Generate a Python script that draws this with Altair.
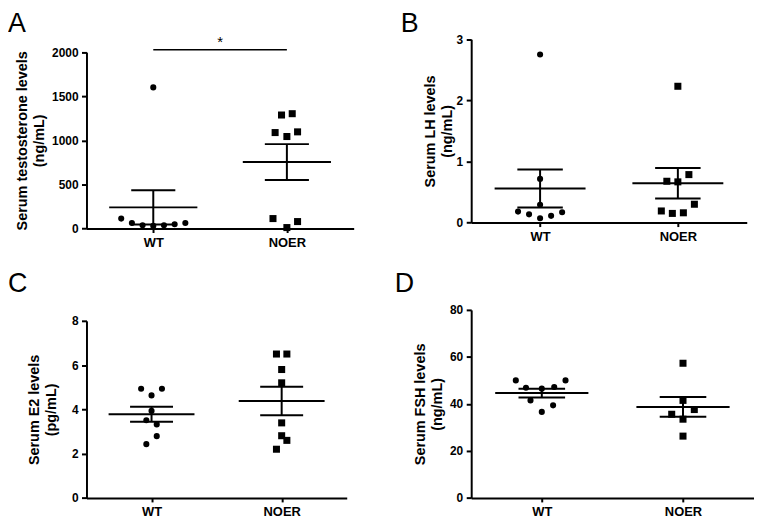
import altair as alt
import pandas as pd

groups = ["WT", "NOER"]
shapes = ["circle", "square"]

# ---- Panel A: serum testosterone (ng/mL)
a_wt = [113, 63, 37, 30, 37, 48, 63, 1600]
a_wt_slot = [-3, -2, -1, 0, 1, 2, 3, 0]
a_noer = [113, 11, 79, 1088, 1043, 1096, 1287, 1302]
a_noer_slot = [-1.3, 0, 1, -1.1, 0, 1, -0.5, 0.5]
a_mean = [240, 754]
a_sem = [195, 203]
a_ticks = [0, 500, 1000, 1500, 2000]
a_sig_from = [0]
a_sig_to = [1]
a_sig_y = [2027]
a_star_x = [0.5]
a_star_y = [2060]
a_star_text = ["*"]

# ---- Panel B: serum LH (ng/mL)
b_wt = [2.75, 0.715, 0.29, 0.18, 0.135, 0.07, 0.11, 0.17]
b_wt_slot = [0, 0, 0, -2, -1, 0, 1, 2]
b_noer = [2.23, 0.676, 0.666, 0.785, 0.30, 0.19, 0.15, 0.16]
b_noer_slot = [0, -1, 0, 1, 1.5, -1.5, -0.5, 0.5]
b_mean = [0.557, 0.644]
b_sem = [0.31, 0.25]
b_ticks = [0, 1, 2, 3]

# ---- Panel C: serum E2 (pg/mL)
c_wt = [4.93, 4.93, 4.63, 3.93, 3.51, 3.32, 2.79, 2.43]
c_wt_slot = [-1, 1, 0, 0, -0.5, 0.5, 0.5, -0.5]
c_noer = [6.5, 6.5, 5.8, 5.2, 3.39, 2.81, 2.6, 2.2]
c_noer_slot = [-0.5, 0.5, 0, 0, 0, 0, 0.5, -0.5]
c_mean = [3.78, 4.38]
c_sem = [0.34, 0.64]
c_ticks = [0, 2, 4, 6, 8]

# ---- Panel D: serum FSH (ng/mL)
d_wt = [50.0, 50.0, 46.9, 46.5, 47.2, 41.5, 36.6, 39.4]
d_wt_slot = [-2.3, 2.1, -1.4, 0, 1.1, -1, 0, 1]
d_noer = [57.3, 41.5, 37.6, 35.6, 33.5, 26.3]
d_noer_slot = [0, 0, 1, -1, 0, 0]
d_mean = [44.6, 38.7]
d_sem = [1.9, 4.2]
d_ticks = [0, 20, 40, 60, 80]

FONT = "Liberation Sans"
STEP = 0.08
MEAN_HALF = 0.33
CAP_HALF = 0.165
label_expr = "[" + ",".join("'%s'" % g for g in groups) + "][datum.value]"


def panel(letter, letter_dx, letter_offset, wt, wt_slot, noer, noer_slot,
          mean, sem, ticks, ytitle, title_pad, width, height, y_top, extra=()):
    pts = pd.DataFrame({
        "group": [groups[0]] * len(wt) + [groups[1]] * len(noer),
        "gi": [0] * len(wt) + [1] * len(noer),
        "value": wt + noer,
        "slot": wt_slot + noer_slot,
    })
    summ = pd.DataFrame({"group": groups, "gi": [0, 1], "mean": mean, "sem": sem})
    xs = alt.Scale(domain=[-0.5, 1.5], nice=False, zero=False)
    ys = alt.Scale(domain=[ticks[0], ticks[-1]], range=[height, y_top], nice=False)
    xax = alt.Axis(values=[0, 1], labelExpr=label_expr, title=None, grid=False,
                   tickSize=4, labelPadding=4, labelFontSize=13, labelFlush=False)
    yax = alt.Axis(values=ticks, title=ytitle, grid=False, tickSize=5, format="d",
                   labelPadding=3.5, titlePadding=title_pad, labelFontSize=12,
                   labelFlush=False)

    def X(f):
        return alt.X(f, type="quantitative", scale=xs, axis=xax)

    def Y(f):
        return alt.Y(f, type="quantitative", scale=ys, axis=yax)

    base = alt.Chart(summ).transform_calculate(
        lo="datum.mean - datum.sem",
        hi="datum.mean + datum.sem",
        ml="datum.gi - %f" % MEAN_HALF,
        mr="datum.gi + %f" % MEAN_HALF,
        cl="datum.gi - %f" % CAP_HALF,
        cr="datum.gi + %f" % CAP_HALF,
    )
    rule = dict(color="black", strokeWidth=2)
    mean_line = base.mark_rule(**rule).encode(x=X("ml"), x2="mr:Q", y=Y("mean"))
    err = base.mark_rule(**rule).encode(x=X("gi"), y=Y("lo"), y2="hi:Q")
    cap_hi = base.mark_rule(**rule).encode(x=X("cl"), x2="cr:Q", y=Y("hi"))
    cap_lo = base.mark_rule(**rule).encode(x=X("cl"), x2="cr:Q", y=Y("lo"))
    points = alt.Chart(pts).transform_calculate(
        xpos="datum.gi + datum.slot * %f" % STEP
    ).mark_point(filled=True, opacity=1, color="black", strokeWidth=0).encode(
        x=X("xpos"), y=Y("value"),
        shape=alt.Shape("group:N", scale=alt.Scale(domain=groups, range=shapes), legend=None),
        size=alt.Size("group:N", scale=alt.Scale(domain=groups, range=[38, 50]), legend=None),
    )
    layers = [mean_line, err, cap_hi, cap_lo, points]
    for e in extra:
        layers.append(e(X, Y))
    return alt.layer(*layers).properties(
        width=width, height=height,
        title=alt.TitleParams(text=letter, anchor="start", frame="group", fontSize=27,
                              fontWeight="normal", font=FONT, color="black",
                              dx=letter_dx, offset=letter_offset),
    )


def sig_bar(X, Y):
    df = pd.DataFrame({"x": a_sig_from, "x2": a_sig_to, "y": a_sig_y})
    return alt.Chart(df).mark_rule(color="black", strokeWidth=1.5).encode(
        x=X("x"), x2="x2:Q", y=Y("y"))


def sig_star(X, Y):
    df = pd.DataFrame({"x": a_star_x, "y": a_star_y, "t": a_star_text})
    return alt.Chart(df).mark_text(baseline="alphabetic", fontSize=15, font=FONT,
                                   color="black").encode(x=X("x"), y=Y("y"), text="t:N")


pA = panel("A", -79, -7.8, a_wt, a_wt_slot, a_noer, a_noer_slot, a_mean, a_sem, a_ticks,
           ["Serum testosterone levels", "(ng/mL)"], 5, 269, 199.3, 21.7,
           extra=(sig_bar, sig_star))
pB = panel("B", -71, -7.8, b_wt, b_wt_slot, b_noer, b_noer_slot, b_mean, b_sem, b_ticks,
           ["Serum LH levels", "(ng/mL)"], 2, 277.4, 193.3, 8.7)
pC = panel("C", -79, 3, c_wt, c_wt_slot, c_noer, c_noer_slot, c_mean, c_sem, c_ticks,
           ["Serum E2 levels", "(pg/mL)"], 13, 262, 198.3, 20)
pD = panel("D", -77, 3, d_wt, d_wt_slot, d_noer, d_noer_slot, d_mean, d_sem, d_ticks,
           ["Serum FSH levels", "(ng/mL)"], 5, 284.3, 198.3, 9)

chart = alt.concat(
    pA, pB, pC, pD, columns=2, align="each", bounds="flush",
    spacing={"row": 72.2, "column": 118.3},
).properties(
    padding=0, background="white"
).configure_axis(
    domainColor="black", domainWidth=2, tickColor="black", tickWidth=2,
    labelColor="black", labelFont=FONT, labelFontWeight="bold",
    titleFont=FONT, titleFontWeight="bold", titleColor="black",
    titleFontSize=14.5, titleLineHeight=17,
).configure_view(stroke=None)

chart.save("out.html", embed_options={"renderer": "svg", "actions": False})
